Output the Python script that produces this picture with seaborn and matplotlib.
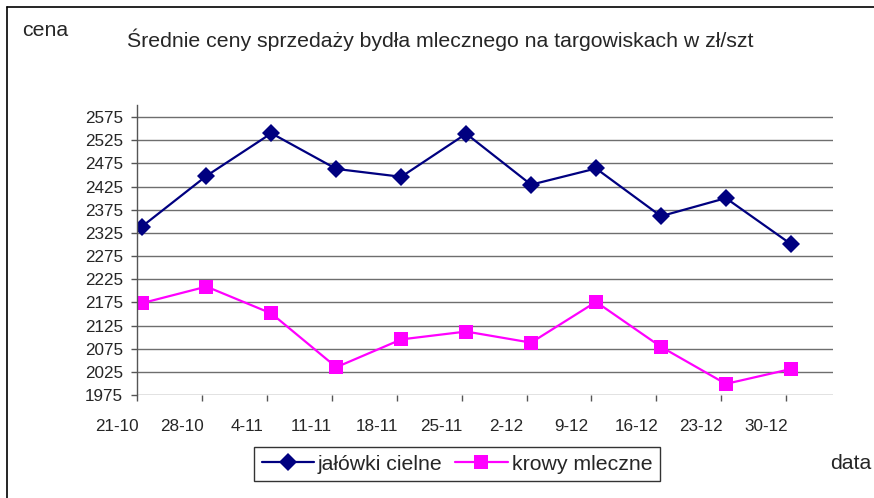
import numpy as np
import pandas as pd
import matplotlib
matplotlib.use("Agg")
import matplotlib.pyplot as plt
import matplotlib.transforms as mtransforms
from matplotlib.lines import Line2D
import seaborn as sns

dates = ["21-10", "28-10", "4-11", "11-11", "18-11", "25-11", "2-12", "9-12", "16-12", "23-12", "30-12"]
jalowki = [2338, 2448, 2540, 2463, 2446, 2539, 2429, 2464, 2361, 2400, 2301]
krowy = [2173, 2209, 2151, 2035, 2095, 2112, 2088, 2176, 2079, 1999, 2031]
yticks = list(range(1975, 2576, 50))
series_names = ["jałówki cielne", "krowy mleczne"]

sns.set_style("white")
plt.rcParams["font.family"] = ["Liberation Sans", "DejaVu Sans"]

fig = plt.figure(figsize=(8.74, 4.98), dpi=100)
W, H = 874, 498
ax = fig.add_axes([137 / W, 1 - 395 / H, (833 - 137) / W, (395 - 105) / H])

pos = np.arange(len(dates))
df = pd.DataFrame({
    "x": np.concatenate([pos, pos]),
    "cena": jalowki + krowy,
    "seria": [series_names[0]] * len(dates) + [series_names[1]] * len(dates),
})

sns.lineplot(data=df, x="x", y="cena", hue="seria", style="seria",
             palette={series_names[0]: "#000080", series_names[1]: "#FF00FF"},
             markers={series_names[0]: "D", series_names[1]: "s"},
             dashes=False, markersize=9, linewidth=1.6, markeredgewidth=0,
             ax=ax, legend=False)
for line, ms in zip(ax.lines, [8.8, 10.2]):
    line.set_markersize(ms)

ax.set_xlim(-0.07, 10.65)
ax.set_ylim(1975, 2601)
ax.set_yticks(yticks)
ax.set_yticklabels([str(v) for v in yticks])
ax.set_xticks(pos - 0.07)
ax.set_xticklabels(dates)
ax.set_xlabel("")
ax.set_ylabel("")

gcol = "#6e6e6e"
for y in yticks:
    ax.axhline(y, color=gcol, lw=1.0, zorder=0)
for s in ["top", "right", "bottom"]:
    ax.spines[s].set_visible(False)
ax.spines["left"].set_color("#555555")
ax.spines["left"].set_linewidth(1.0)
ax.tick_params(axis="y", direction="out", length=4, width=1, color="#555555",
               labelsize=12.3, pad=6, left=True)
ax.tick_params(axis="x", direction="out", length=4, width=1, color="#555555",
               labelsize=12.3, pad=13, bottom=True)
offset = mtransforms.ScaledTranslation(-20 / 100, 0, fig.dpi_scale_trans)
for lbl in ax.get_xticklabels():
    lbl.set_transform(lbl.get_transform() + offset)

fig.text(440 / W, 1 - 40 / H, "Średnie ceny sprzedaży bydła mlecznego na targowiskach w zł/szt",
         ha="center", va="center", fontsize=15.3)
fig.text(22 / W, 1 - 30 / H, "cena", ha="left", va="center", fontsize=15.3)
fig.text(830 / W, 1 - 463 / H, "data", ha="left", va="center", fontsize=15.3)

handles = [Line2D([], [], color="#000080", marker="D", ms=8.8, mew=0, lw=1.6),
           Line2D([], [], color="#FF00FF", marker="s", ms=10.2, mew=0, lw=1.6)]
leg = fig.legend(handles, series_names, loc="center", bbox_to_anchor=(457 / W, 1 - 464 / H),
                 ncol=2, fontsize=15.3, frameon=True, fancybox=False, handlelength=2.45,
                 handletextpad=0.2, columnspacing=0.6, borderpad=0.35, borderaxespad=0)
leg.get_frame().set_edgecolor("black")
leg.get_frame().set_linewidth(1.0)

fig.add_artist(Line2D([7 / W, 1], [1 - 7 / H, 1 - 7 / H], color="black", lw=1.2, transform=fig.transFigure))
fig.add_artist(Line2D([7 / W, 7 / W], [0, 1 - 7 / H], color="black", lw=1.2, transform=fig.transFigure))

fig.savefig("out.png", dpi=100)
